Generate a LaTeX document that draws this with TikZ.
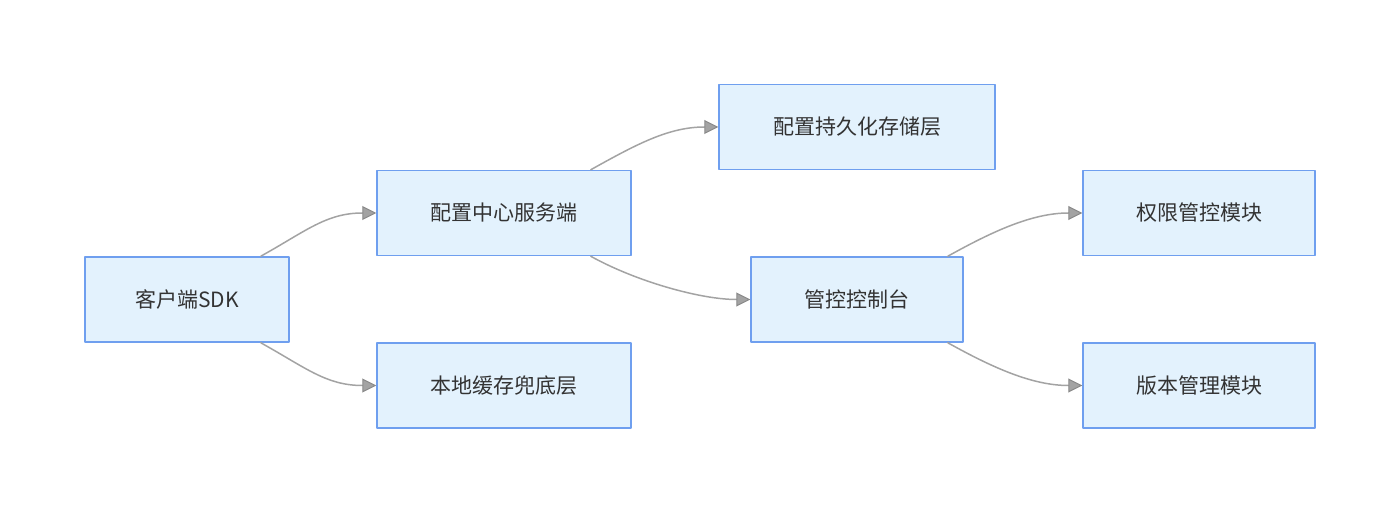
\documentclass[tikz,border=0pt]{standalone}
\usepackage{fontspec}
\setmainfont{Noto Sans CJK SC}
\usepackage{xcolor}
\usetikzlibrary{arrows.meta}
\definecolor{boxfill}{HTML}{E3F2FD}
\definecolor{boxline}{HTML}{6F9FEF}
\definecolor{linkgray}{HTML}{A3A3A3}
\definecolor{tipgray}{HTML}{8A8A8A}
\definecolor{textgray}{HTML}{333333}

\begin{document}
\begin{tikzpicture}[line cap=round,line join=round,>={Triangle[length=14pt,width=14pt,color=tipgray,fill=linkgray,line width=1pt]},x=1pt,y=-1pt]
\tikzset{box/.style={draw=boxline,fill=boxfill,line width=1.5pt,minimum height=85pt,inner sep=0pt,text=textgray,font=\fontsize{21pt}{25pt}\selectfont},
link/.style={draw=linkgray,line width=1.5pt,->}}
\useasboundingbox (0,0) rectangle (1400,513);
\node[box,minimum width=204pt] (sdk) at (187,299.5) {客户端SDK};
\node[box,minimum width=254pt] (server) at (504,213) {配置中心服务端};
\node[box,minimum width=254pt] (cache) at (504,385.5) {本地缓存兜底层};
\node[box,minimum width=276pt] (storage) at (857,127) {配置持久化存储层};
\node[box,minimum width=212pt] (console) at (857,299.5) {管控控制台};
\node[box,minimum width=232pt] (auth) at (1199,213) {权限管控模块};
\node[box,minimum width=232pt] (version) at (1199,385.5) {版本管理模块};
\draw[link] ([xshift=-29pt]sdk.north east) .. controls +(45,-25) and +(-50,0) .. (server.west);
\draw[link] ([xshift=-29pt]sdk.south east) .. controls +(45,25) and +(-50,0) .. (cache.west);
\draw[link] ([xshift=-41pt]server.north east) .. controls +(45,-25) and +(-50,0) .. (storage.west);
\draw[link] ([xshift=-41pt]server.south east) .. controls +(45,25) and +(-50,0) .. (console.west);
\draw[link] ([xshift=-16pt]console.north east) .. controls +(45,-25) and +(-50,0) .. (auth.west);
\draw[link] ([xshift=-16pt]console.south east) .. controls +(45,25) and +(-50,0) .. (version.west);
\end{tikzpicture}
\end{document}
